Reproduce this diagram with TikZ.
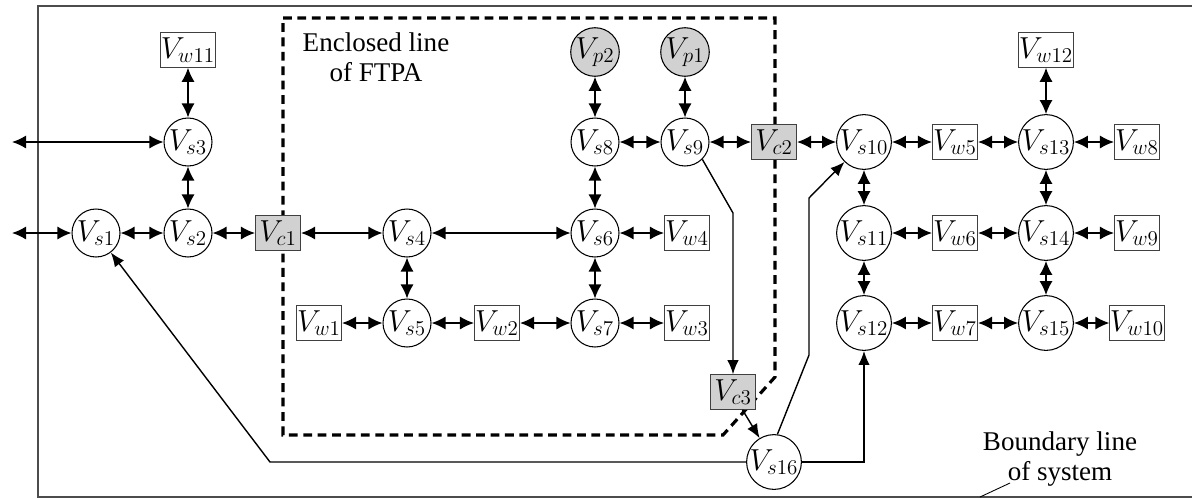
\documentclass[tikz,border=0pt]{standalone}
\usepackage[no-math]{fontspec}
\setmainfont{Liberation Serif}
\usepackage{amsmath}
\usepackage{tikz}
\usetikzlibrary{arrows,arrows.meta,shapes}
\tikzstyle{bus} = [circle, draw=black, line width=0.6pt, minimum size=0.96cm, inner sep=0pt, font=\fontsize{16.5}{18}\selectfont]
\tikzstyle{src} = [bus, fill=black!18]
\tikzstyle{load} = [rectangle, draw=black!75, line width=0.6pt, minimum width=0.9cm, minimum height=0.69cm, inner sep=0pt, font=\fontsize{16.5}{18}\selectfont]
\tikzstyle{brk} = [load, fill=black!18]
\tikzstyle{link} = [line width=0.9pt,{Latex[length=8pt,width=7.5pt]}-{Latex[length=8pt,width=7.5pt]}]
\tikzstyle{arrow} = [line width=0.8pt,-{Latex[length=8pt,width=6.5pt]}]
\tikzstyle{ftpa} = [line width=1.8pt, dash pattern=on 5pt off 3.2pt]

\begin{document}
\begin{tikzpicture}[x=0.02cm, y=-0.02cm, font=\fontsize{15.4}{17}\selectfont]
                    \useasboundingbox (0,0) rectangle (1192,498);
                    \draw[black!70, line width=0.6pt] (1192,6) -- (38,6) -- (38,497) -- (1192,497);
                    \draw[ftpa] (283,18) -- (775,18) -- (775,377) -- (723,435) -- (283,435) -- cycle;

                    \node[load] (w11) at (188,50) {$V_{w11}$};
                    \node[bus] (s3) at (188,142) {$V_{s3}$};
                    \node[bus] (s1) at (96,233) {$V_{s1}$};
                    \node[bus] (s2) at (188,233) {$V_{s2}$};
                    \node[brk] (c1) at (278,233) {$V_{c1}$};
                    \node[bus] (s4) at (407,233) {$V_{s4}$};
                    \node[bus] (s5) at (407,323) {$V_{s5}$};
                    \node[load] (w1) at (319,323) {$V_{w1}$};
                    \node[load] (w2) at (497,323) {$V_{w2}$};
                    \node[bus] (s6) at (595,233) {$V_{s6}$};
                    \node[bus] (s7) at (595,323) {$V_{s7}$};
                    \node[load] (w4) at (687,233) {$V_{w4}$};
                    \node[load] (w3) at (687,323) {$V_{w3}$};
                    \node[bus] (s8) at (595,142) {$V_{s8}$};
                    \node[bus] (s9) at (685,142) {$V_{s9}$};
                    \node[src] (p2) at (595,52) {$V_{p2}$};
                    \node[src] (p1) at (685,52) {$V_{p1}$};
                    \node[brk] (c2) at (774,142) {$V_{c2}$};
                    \node[brk] (c3) at (733,392) {$V_{c3}$};
                    \node[bus] (s16) at (774,462) {$V_{s16}$};
                    \node[bus] (s10) at (864,142) {$V_{s10}$};
                    \node[bus] (s11) at (864,233) {$V_{s11}$};
                    \node[bus] (s12) at (864,323) {$V_{s12}$};
                    \node[load] (w5) at (955,142) {$V_{w5}$};
                    \node[load] (w6) at (955,233) {$V_{w6}$};
                    \node[load] (w7) at (955,323) {$V_{w7}$};
                    \node[bus] (s13) at (1046,142) {$V_{s13}$};
                    \node[bus] (s14) at (1046,233) {$V_{s14}$};
                    \node[bus] (s15) at (1046,323) {$V_{s15}$};
                    \node[load] (w12) at (1046,50) {$V_{w12}$};
                    \node[load] (w8) at (1137,142) {$V_{w8}$};
                    \node[load] (w9) at (1137,233) {$V_{w9}$};
                    \node[load] (w10) at (1137,323) {$V_{w10}$};

                    \coordinate (ext3) at (12,142);
                    \coordinate (ext1) at (12,233);

                    \node[align=center] (encl) at (376,57) {Enclosed line\\of FTPA};
                    \node[align=center] (bnd) at (1060,459) {Boundary line\\of system};
                    \coordinate (bndtip) at (980,497);
                    \draw[line width=0.5pt] (1010,483) -- (bndtip);

                    \draw[link] (ext3) -- (s3);
                    \draw[link] (ext1) -- (s1);
                    \draw[link] (w11) -- (s3);
                    \draw[link] (s3) -- (s2);
                    \draw[link] (s1) -- (s2);
                    \draw[link] (s2) -- (c1);
                    \draw[link] (c1) -- (s4);
                    \draw[link] (s4) -- (s6);
                    \draw[link] (s4) -- (s5);
                    \draw[link] (w1) -- (s5);
                    \draw[link] (s5) -- (w2);
                    \draw[link] (w2) -- (s7);
                    \draw[link] (s7) -- (w3);
                    \draw[link] (s6) -- (w4);
                    \draw[link] (s6) -- (s7);
                    \draw[link] (s8) -- (s6);
                    \draw[link] (p2) -- (s8);
                    \draw[link] (p1) -- (s9);
                    \draw[link] (s8) -- (s9);
                    \draw[link] (s9) -- (c2);
                    \draw[link] (c2) -- (s10);
                    \draw[link] (s10) -- (w5);
                    \draw[link] (w5) -- (s13);
                    \draw[link] (s13) -- (w8);
                    \draw[link] (w12) -- (s13);
                    \draw[link] (s13) -- (s14);
                    \draw[link] (s10) -- (s11);
                    \draw[link] (s11) -- (s12);
                    \draw[link] (s11) -- (w6);
                    \draw[link] (w6) -- (s14);
                    \draw[link] (s14) -- (w9);
                    \draw[link] (s14) -- (s15);
                    \draw[link] (s12) -- (w7);
                    \draw[link] (w7) -- (s15);
                    \draw[link] (s15) -- (w10);

                    \draw[arrow] (s9.-45) -- (733,213) -- (c3.north);
                    \draw[arrow] (c3.-62) -- (s16);
                    \draw[arrow] (s16.west) -- (270,462) -- (s1);
                    \draw[arrow] (s16.83) -- (809,355) -- (809,198) -- (s10);
                    \draw[arrow] (s16.east) -- (864,462) -- (s12.south);
\end{tikzpicture}
\end{document}
